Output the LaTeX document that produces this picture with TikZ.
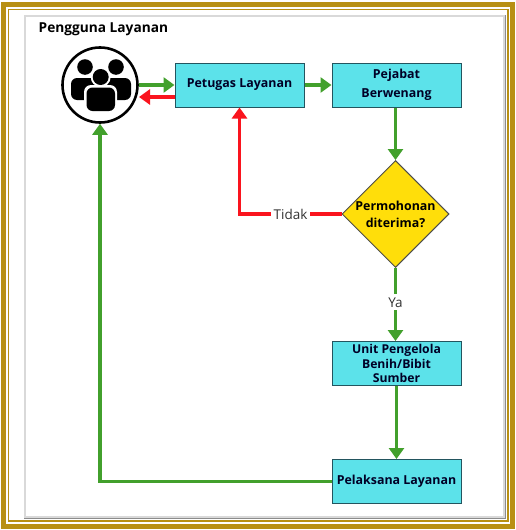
\documentclass[tikz,border=0pt]{standalone}
\usepackage{fontspec}
\setmainfont{Open Sans}
\usetikzlibrary{shapes.geometric,arrows.meta,calc}
\definecolor{gold}{RGB}{184,144,20}
\definecolor{boxc}{RGB}{92,226,234}
\definecolor{boxl}{RGB}{35,85,95}
\definecolor{grn}{RGB}{66,160,44}
\definecolor{redl}{RGB}{250,20,30}
\definecolor{yel}{RGB}{255,222,10}
\tikzset{
 x=1pt,y=1pt,
 procbox/.style={draw=boxl,line width=1pt,fill=boxc,minimum width=129pt,minimum height=44pt,inner sep=0pt,align=center,font=\fontsize{12.4}{19}\selectfont\bfseries,text=black!85!blue},
 gflow/.style={draw=grn,line width=3.2pt,-{Triangle[length=11pt,width=15pt]}},
 rflow/.style={draw=redl,line width=3.2pt,-{Triangle[length=11pt,width=15pt]}},
 lab/.style={fill=white,inner sep=3pt,font=\fontsize{13.5}{15}\selectfont,text=black!80},
}
\begin{document}
\begin{tikzpicture}
\useasboundingbox (0,0) rectangle (515,-530);
\fill[white] (0,0) rectangle (515,-530);
\draw[gold,line width=5pt] (3.5,-4.5) rectangle (512,-526.5);
\draw[gold,line width=1.2pt] (8.5,-9.5) rectangle (508,-521);
\fill[black!45] (24,-15) rectangle (506,-519);
\fill[black!15] (24,-15) rectangle (504.5,-518);
\fill[white] (25.5,-16.5) rectangle (503,-516);
\node[anchor=west,font=\fontsize{13.7}{15}\selectfont\bfseries,text=black,inner sep=0pt] (title) at (38.5,-29) {Pengguna Layanan};
\node[circle,draw=black,line width=2.6pt,fill=white,minimum size=75pt,inner sep=0pt] (users) at (100,-85) {};
% people icon
\fill[black] (85,-67) circle (7.8);
\fill[black] (116,-67) circle (7.8);
\fill[black,rounded corners=6pt] (71,-100) -- (71,-78) -- (100,-78) -- (131,-78) -- (131,-100) -- cycle;
\fill[white] (100.7,-77) circle (10);
\fill[black] (100.7,-77) circle (8);
\fill[white,rounded corners=7pt] (84,-113) -- (84,-85) -- (117,-85) -- (117,-113) -- cycle;
\fill[black,rounded corners=6pt] (86.5,-111) -- (86.5,-87.5) -- (115,-87.5) -- (115,-111) -- cycle;
\node[procbox] (petugas) at (239.5,-85) {\raisebox{-1pt}{Petugas Layanan}};
\node[procbox] (pejabat) at (396.5,-85) {Pejabat\\Berwenang};
\node[diamond,aspect=1,draw=black!70,line width=1pt,fill=yel,minimum width=107pt,minimum height=107pt,inner sep=0pt,align=center,font=\fontsize{12.4}{17}\selectfont\bfseries,text=black] (keputusan) at (395.5,-214) {Permohonan\\diterima?};
\node[procbox,font=\fontsize{12.2}{14.5}\selectfont\bfseries] (unit) at (396.5,-363.5) {Unit Pengelola\\Benih/Bibit\\Sumber};
\node[procbox] (pelaksana) at (396.5,-481.5) {\raisebox{-1pt}{Pelaksana Layanan}};
\draw[gflow] (users.east |- 0,-85) -- (petugas.west);
\draw[rflow] (petugas.west |- 0,-97) -- (139,-97);
\draw[gflow] (petugas.east) -- (pejabat.west);
\draw[gflow] (pejabat.south -| keputusan.north) -- (keputusan.north);
\draw[gflow] (keputusan.south) -- node[lab,pos=0.47]{Ya} (keputusan.south |- unit.north);
\draw[gflow] (unit.south -| pelaksana.north) -- (pelaksana.north);
\draw[gflow] (pelaksana.west) -- (users.south |- pelaksana.west) -- (users.south);
\draw[rflow] (keputusan.west) -- node[lab,pos=0.5]{Tidak} (petugas.south |- keputusan.west) -- (petugas.south);
\end{tikzpicture}
\end{document}
